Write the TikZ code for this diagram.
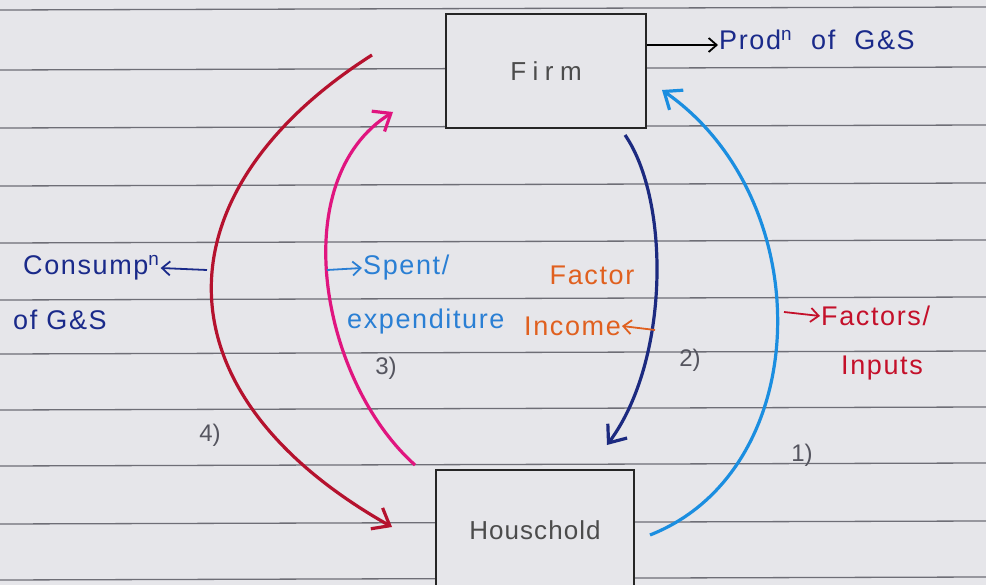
\documentclass[tikz,border=0pt]{standalone}
\usepackage{fontspec}
\setmainfont{Liberation Sans}
\usetikzlibrary{arrows.meta}
\definecolor{paper}{HTML}{E6E6EA}
\definecolor{ruleline}{HTML}{6E6E76}
\definecolor{cred}{HTML}{B5122E}
\definecolor{cmag}{HTML}{E0157F}
\definecolor{cnavy}{HTML}{1C2A80}
\definecolor{cblue}{HTML}{1B8EE0}
\definecolor{tnavy}{HTML}{1A2A8A}
\definecolor{tspent}{HTML}{2A7FD4}
\definecolor{torange}{HTML}{E0601F}
\definecolor{tcrim}{HTML}{C4102A}
\definecolor{tgray}{HTML}{55555F}
\tikzset{
  flow/.style={line width=3.2pt, -{Straight Barb[length=15pt,width=24pt,line width=3.2pt]}},
  tag/.style={line width=1.8pt, -{Straight Barb[length=8pt,width=14pt,line width=1.8pt]}},
  boxnode/.style={draw=black!85, line width=1.8pt, minimum width=200pt, minimum height=114pt, inner sep=0pt, font=\fontsize{26}{30}\selectfont\addfontfeatures{LetterSpace=25}, text=black!70},
  lbl/.style={font=\fontsize{27}{30}\selectfont\addfontfeatures{LetterSpace=6}, inner sep=1pt},
  num/.style={font=\fontsize{24}{28}\selectfont, text=tgray, inner sep=1pt}
}
\begin{document}
\begin{tikzpicture}[x=1pt,y=-1pt]
\useasboundingbox (0,0) rectangle (986,585);
\fill[paper] (0,0) rectangle (986,585);
% ruled lines
\foreach \yy in {10,70,128,186,243,300,354,410,466,524,580}
  \draw[ruleline, line width=1.3pt] (0,\yy) -- (986,\yy-3);
% boxes
\node[boxnode, fill=paper] (firm) at (546,71) {Firm};
\node[boxnode, fill=paper, minimum width=198pt, minimum height=120pt, font=\fontsize{26}{30}\selectfont\addfontfeatures{LetterSpace=4}] (house) at (535,530) {Houschold};
% main flows
\coordinate (s4) at (372,55);
\coordinate (e4) at (392,527);
\draw[flow, cred] (s4) .. controls (160,190) and (150,390) .. (e4);
\coordinate (s3) at (415,465);
\coordinate (e3) at (393,112);
\draw[flow, cmag] (s3) .. controls (320,380) and (285,180) .. (e3);
\coordinate (s2) at (625,135);
\coordinate (e2) at (607,445);
\draw[flow, cnavy] (s2) .. controls (670,200) and (670,360) .. (e2);
\coordinate (s1) at (650,535);
\coordinate (e1) at (662,90);
\draw[flow, cblue] (s1) .. controls (815,470) and (820,200) .. (e1);
% labels
\node[lbl, text=tnavy, anchor=west] (prod) at (718,40) {Prod\textsuperscript{n}\hspace{10pt} of\hspace{10pt} G\&S};
\draw[tag, black] (firm.east |- 0,45) -- (prod.west |- 0,45);
\node[lbl, text=tnavy, anchor=west] (cons1) at (22,268) {Consump\textsuperscript{n}};
\node[lbl, text=tnavy, anchor=west] (cons2) at (12,320) {of G\&S};
\coordinate (c4) at (207,270);
\draw[tag, tnavy] (c4) -- (cons1.east);
\node[lbl, text=tspent, anchor=west] (spent) at (362,268) {Spent/};
\node[lbl, text=tspent, anchor=west] (expd) at (346,322) {expenditure};
\coordinate (c3) at (327,270);
\draw[tag, tspent] (c3) -- (spent.west);
\node[num] (n3) at (386,368) {3)};
\node[lbl, text=torange] (fac) at (592,275) {Factor};
\node[lbl, text=torange, anchor=east] (inc) at (622,326) {Income};
\coordinate (c2) at (655,330);
\draw[tag, torange] (c2) -- (inc.east);
\node[num] (n2) at (690,360) {2)};
\node[lbl, text=tcrim, anchor=west] (facs) at (820,316) {Factors/};
\node[lbl, text=tcrim, anchor=west] (inp) at (840,368) {Inputs};
\coordinate (c1) at (784,312);
\draw[tag, tcrim] (c1) -- (facs.west);
\node[num] (n1) at (802,455) {1)};
\node[num] (n4) at (210,435) {4)};
\end{tikzpicture}
\end{document}
